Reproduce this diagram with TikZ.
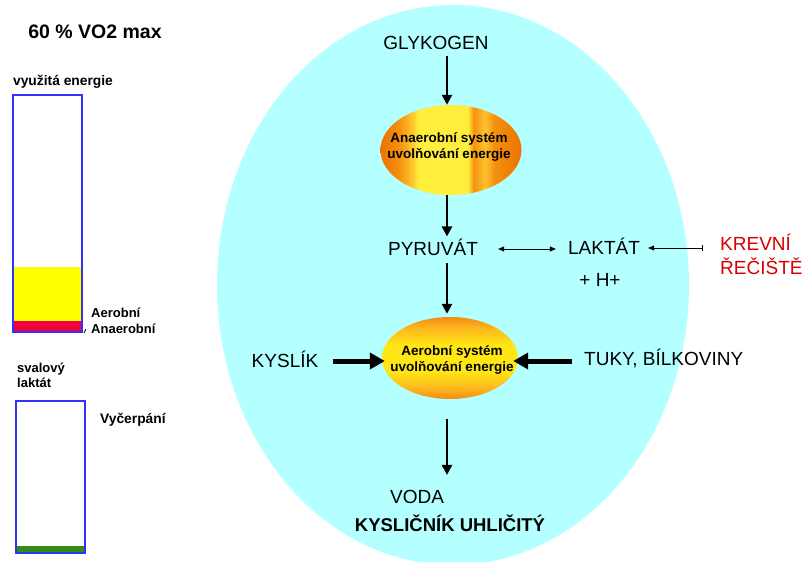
\documentclass[tikz,border=0pt]{standalone}
\usepackage{fontspec}
\setmainfont{Liberation Sans}
\usetikzlibrary{arrows.meta,shapes.geometric}

\definecolor{cellcyan}{RGB}{180,255,255}
\definecolor{barblue}{RGB}{50,50,255}
\definecolor{barred}{RGB}{240,0,60}
\definecolor{baryellow}{RGB}{255,255,0}
\definecolor{bargreen}{RGB}{50,140,20}
\definecolor{krevred}{RGB}{215,0,0}
% anaerobic ellipse: orange with a yellow vertical band
\definecolor{anA}{RGB}{235,115,0}
\definecolor{anB}{RGB}{245,145,15}
\definecolor{anC}{RGB}{255,195,45}
\definecolor{anY}{RGB}{255,238,60}
% aerobic ellipse: yellow core, orange top and bottom
\definecolor{aeA}{RGB}{245,140,20}
\definecolor{aeB}{RGB}{255,190,30}
\definecolor{aeY}{RGB}{255,230,20}

\pgfdeclarehorizontalshading{anaershade}{100bp}{color(0bp)=(anA); color(25bp)=(anA);
  color(31.7bp)=(anB); color(36bp)=(anC); color(38.5bp)=(anY); color(56bp)=(anY);
  color(58bp)=(anB); color(62bp)=(anC); color(65.4bp)=(anB); color(75bp)=(anA); color(100bp)=(anA)}
\pgfdeclareverticalshading{aershade}{100bp}{color(0bp)=(aeA); color(25bp)=(aeA);
  color(33bp)=(aeB); color(42bp)=(aeY); color(58bp)=(aeY); color(67bp)=(aeB);
  color(75bp)=(aeA); color(100bp)=(aeA)}

\begin{document}
\begin{tikzpicture}[x=1pt,y=-1pt,
  % text height = cap height, so a node's centre sits at the middle of its capitals
  lbl/.style={inner sep=0pt, text height=13.7pt, text depth=0pt,
    font=\fontsize{19}{22}\selectfont},
  blbl/.style={lbl, text height=13.3pt, font=\bfseries\fontsize{18.5}{22}\selectfont},
  small/.style={inner sep=0pt, text height=9.4pt, text depth=0pt,
    font=\bfseries\fontsize{13}{15}\selectfont},
  celltext/.style={inner sep=0pt, align=center,
    font=\bfseries\fontsize{13.5}{16}\selectfont},
  blob/.style={ellipse, inner sep=0pt, draw=none},
  varrow/.style={line width=2.5pt, -{Triangle[length=10pt,width=10pt]}},
  harrow/.style={line width=5pt, -{Triangle[length=15pt,width=16pt]}},
  thinarrow/.style={line width=1pt, {Triangle[length=6pt,width=5pt]}-{Triangle[length=6pt,width=5pt]}},
  bararrow/.style={line width=1pt, {Bar[width=6pt]}-{Triangle[length=6pt,width=5pt]}},
  barframe/.style={draw=barblue, line width=2pt}
]
\useasboundingbox (0,0) rectangle (806,562);
\fill[white] (0,0) rectangle (806,562);

% the cell
\fill[cellcyan] (453,285) ellipse [x radius=236, y radius=280];

% left: energy bar
\node[lbl, text height=14pt, font=\bfseries\fontsize{19.5}{23}\selectfont] (vo2) at (95,31) {60 \% VO2 max};
\node[small, text height=9.9pt, font=\bfseries\fontsize{13.8}{16}\selectfont] (vyuz) at (63,81) {využitá energie};
\fill[baryellow] (13,267) rectangle (82,321);
\fill[barred] (13,321) rectangle (82,332);
\draw[barframe] (13,95) rectangle (82,332);
\node[small, anchor=west] (aerob) at (91,313) {Aerobní};
\node[small, anchor=west] (anaer) at (91,329) {Anaerobní};
\draw[line width=0.8pt] (84,333) -- (86,329);

% left: muscle lactate bar
\node[small, anchor=west] (sval) at (17,368) {svalový};
\node[small, anchor=west] (lakt) at (17,383) {laktát};
\fill[bargreen] (16,546) rectangle (86,553);
\draw[barframe] (16,401) rectangle (85,553);
\node[small, anchor=west, text height=9.9pt, font=\bfseries\fontsize{13.8}{16}\selectfont] (vyc) at (100,419) {Vyčerpání};

% metabolic pathway
\coordinate (spine) at (447,0);
\node[lbl] (glyk) at (436,43) {GLYKOGEN};
\node[blob, minimum width=141pt, minimum height=90pt, shading=anaershade] (ana) at (451,150) {};
\node[celltext] (anatxt) at (449,147) {Anaerobní systém\\uvolňování energie};
\node[lbl] (pyr) at (433,249) {PYRUVÁT};
\node[lbl] (lak) at (604,248) {LAKTÁT};
\node[lbl] (hplus) at (600,280) {+ H+};
\node[lbl, anchor=west, text=krevred] (krev1) at (720,244) {KREVNÍ};
\node[lbl, anchor=west, text=krevred] (krev2) at (720,268) {ŘEČIŠTĚ};
\node[blob, minimum width=136pt, minimum height=82pt, shading=aershade] (aer) at (450,358) {};
\node[celltext] (aertxt) at (452,360) {Aerobní systém\\uvolňování energie};
\node[lbl] (kys) at (285,361) {KYSLÍK};
\node[lbl, anchor=west] (tuky) at (584,359) {TUKY, BÍLKOVINY};
\node[lbl] (voda) at (417,497) {VODA};
\node[blbl] (co2) at (450,525) {KYSLIČNÍK UHLIČITÝ};

% connectors
\draw[varrow, shorten <=5.5pt] (glyk.south -| spine) -- (ana.north -| spine);
\draw[varrow, shorten >=5.5pt] (ana.south -| spine) -- (pyr.north -| spine);
\draw[varrow, shorten <=7pt, shorten >=3pt] (pyr.south -| spine) -- (aer.north -| spine);
\draw[varrow, shorten <=20pt, shorten >=15pt] (aer.south -| spine) -- (voda.north -| spine);
\draw[thinarrow, shorten <=20pt, shorten >=12pt] (pyr.east) -- (pyr.east -| lak.west);
\draw[bararrow, shorten <=17pt, shorten >=8pt] (krev1.west |- lak) -- (lak.east);
\draw[harrow, shorten <=15pt, shorten >=-3pt] (kys.east) -- (kys.east -| aer.west);
\draw[harrow, shorten <=12pt, shorten >=-5pt] (tuky.west |- kys) -- (kys -| aer.east);
\end{tikzpicture}
\end{document}
